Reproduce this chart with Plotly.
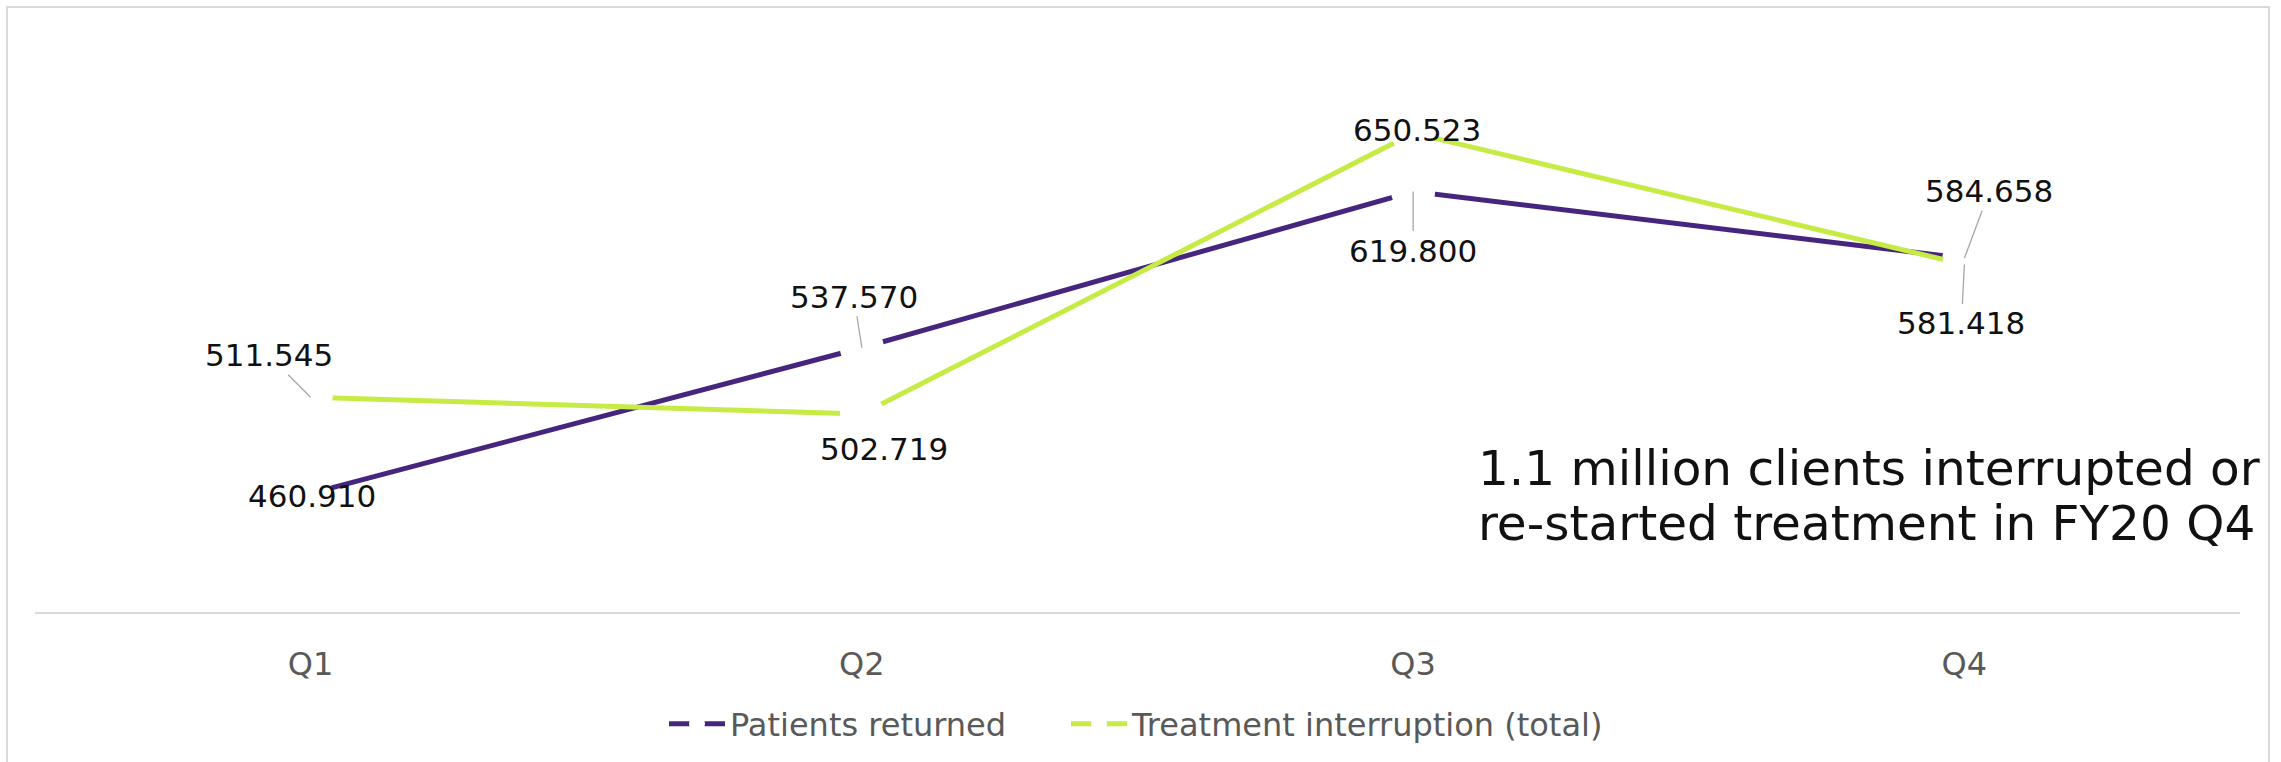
import plotly.graph_objects as go

# Quarterly client counts, FY20
quarters = ["Q1", "Q2", "Q3", "Q4"]
patients_returned = [460910, 537570, 619800, 584658]
treatment_interruption = [511545, 502719, 650523, 581418]

series_names = ["Patients returned", "Treatment interruption (total)"]
purple = "#45257D"
green = "#C6EB45"

W, H = 2281, 762
M_L, M_R, M_T, M_B = 35, 41, 42, 149
PW = W - M_L - M_R
PH = H - M_T - M_B


def fmt(v):
    # thousands grouped with a dot, e.g. 460.910
    return f"{v:,}".replace(",", ".")


fig = go.Figure()
for name, vals, col, leg in [
    (series_names[0], patients_returned, purple, "legend"),
    (series_names[1], treatment_interruption, green, "legend2"),
]:
    fig.add_trace(go.Scatter(
        x=quarters, y=vals, name=name, mode="lines+markers",
        line=dict(color=col, width=5),
        marker=dict(color="white", size=44, line=dict(width=0)),
        cliponaxis=False, hoverinfo="skip", legend=leg,
    ))

# data labels: (series values, index, text offset x, y in px, leader line)
label_specs = [
    (patients_returned, 0, 1, 3, False),
    (patients_returned, 1, -8, -51, True),
    (patients_returned, 2, 0, 59, True),
    (patients_returned, 3, 25, -67, True),
    (treatment_interruption, 0, -42, -42, True),
    (treatment_interruption, 1, 22, 35, False),
    (treatment_interruption, 2, 4, -3, False),
    (treatment_interruption, 3, -3, 59, True),
]
for vals, i, dx, dy, leader in label_specs:
    common = dict(x=quarters[i], y=vals[i], text=fmt(vals[i]),
                  font=dict(family="DejaVu Sans", size=31, color="#111111"))
    if leader:
        fig.add_annotation(**common, showarrow=True, ax=dx, ay=dy,
                           arrowhead=0, arrowwidth=1.3, arrowcolor="#A6A6A6",
                           standoff=0, startstandoff=0)
    else:
        fig.add_annotation(**common, showarrow=False, xshift=dx, yshift=-dy)

# callout text
note_lines = ["1.1 million clients interrupted or", "re-started treatment in FY20 Q4"]
note_x = (1476 - M_L) / PW
for k, line in enumerate(note_lines):
    fig.add_annotation(
        text=line, xref="paper", yref="paper",
        x=note_x, y=(M_T + PH - (469 + 55 * k)) / PH,
        xanchor="left", yanchor="middle", showarrow=False,
        font=dict(family="DejaVu Sans", size=48.5, color="#111111"),
    )

# chart frame
fig.add_shape(
    type="rect", xref="paper", yref="paper",
    x0=(7 - M_L) / PW, x1=(2269 - M_L) / PW,
    y0=(M_T + PH - 800) / PH, y1=(M_T + PH - 7) / PH,
    line=dict(color="#D9D9D9", width=2), fillcolor="rgba(0,0,0,0)",
)

legend_common = dict(
    orientation="h", yanchor="middle", y=(M_T + PH - 724) / PH,
    xanchor="left", font=dict(size=32, color="#595959"),
    itemwidth=56, itemclick=False, itemdoubleclick=False,
    bgcolor="rgba(0,0,0,0)",
)

fig.update_layout(
    width=W, height=H,
    margin=dict(l=M_L, r=M_R, t=M_T, b=M_B),
    paper_bgcolor="white", plot_bgcolor="white",
    font=dict(family="DejaVu Sans", color="#595959"),
    showlegend=True,
    legend=dict(**legend_common, x=(664 - M_L) / PW),
    legend2=dict(**legend_common, x=(1066 - M_L) / PW),
    xaxis=dict(
        type="category", categoryorder="array", categoryarray=quarters,
        range=[-0.5, 3.5], showgrid=False, zeroline=False,
        showline=True, linecolor="#D9D9D9", linewidth=2,
        ticks="outside", ticklen=23, tickcolor="rgba(0,0,0,0)",
        tickfont=dict(size=32, color="#595959"),
    ),
    yaxis=dict(range=[398500, 698500], visible=False),
)

fig.write_html("out.html")
